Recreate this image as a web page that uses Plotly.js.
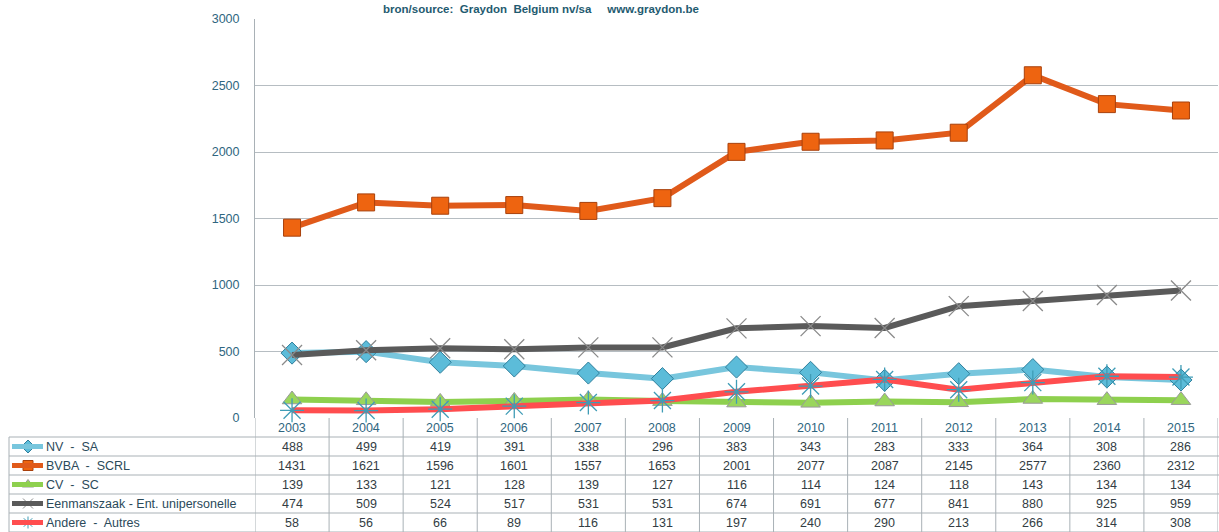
<!DOCTYPE html>
<html>
<head>
<meta charset="utf-8">
<script src="https://cdn.plot.ly/plotly-3.0.1.min.js"></script>
<style>html,body{margin:0;padding:0;background:#fff;}#chart{width:1219px;height:532px;}</style>
</head>
<body>
<div id="chart"></div>
<script>
// ---- data ----
var years = ['2003','2004','2005','2006','2007','2008','2009','2010','2011','2012','2013','2014','2015'];
var seriesNames = ['NV  -  SA', 'BVBA  -  SCRL', 'CV  -  SC', 'Eenmanszaak - Ent. unipersonelle', 'Andere  -  Autres'];
var nvSa = [488, 499, 419, 391, 338, 296, 383, 343, 283, 333, 364, 308, 286];
var bvbaScrl = [1431, 1621, 1596, 1601, 1557, 1653, 2001, 2077, 2087, 2145, 2577, 2360, 2312];
var cvSc = [139, 133, 121, 128, 139, 127, 116, 114, 124, 118, 143, 134, 134];
var eenmanszaak = [474, 509, 524, 517, 531, 531, 674, 691, 677, 841, 880, 925, 959];
var andere = [58, 56, 66, 89, 116, 131, 197, 240, 290, 213, 266, 314, 308];
var yTicks = [0, 500, 1000, 1500, 2000, 2500, 3000];
var titleText = 'bron/source:  Graydon  Belgium nv/sa     www.graydon.be';

// ---- styles ----
var allValues = [nvSa, bvbaScrl, cvSc, eenmanszaak, andere];
var styles = [
  {line: '#78c6dd', mfill: '#5cbcd9', mline: '#2f7f9c', symbol: 'diamond', size: 17, mw: 1},
  {line: '#e05a1a', mfill: '#ee6410', mline: '#a8400c', symbol: 'square', size: 17, mw: 1},
  {line: '#8ed04e', mfill: '#9ad65c', mline: '#9a9a9a', symbol: 'triangle-up', size: 17, mw: 1},
  {line: '#5a5a5a', mfill: '#8a8a8a', mline: '#8a8a8a', symbol: 'x-thin-open', size: 20, mw: 1.3},
  {line: '#ff4d4f', mfill: '#3f9cb6', mline: '#3f9cb6', symbol: 'asterisk-open', size: 20, mw: 1.3}
];

var W = 1219, H = 532;
var plotL = 255, plotR = 1218, plotT = 19, plotB = 418;
var rowTop = 437, rowH = 19;
var gridCol = '#b6bdc2';
var textCol = '#2b4a5a';
var tickCol = '#2f6680';
var font = 'Liberation Sans, Arial, sans-serif';

var traces = [];
allValues.forEach(function (vals, i) {
  var s = styles[i];
  traces.push({
    type: 'scatter', mode: 'lines+markers', name: seriesNames[i],
    x: years, y: vals, xaxis: 'x', yaxis: 'y', cliponaxis: false,
    line: {color: s.line, width: 6},
    marker: {symbol: s.symbol, size: s.size, color: s.mfill, line: {color: s.mline, width: s.mw}},
    showlegend: false, hoverinfo: 'x+y'
  });
});

// legend markers in the table (pixel axes)
var shapes = [];
var annotations = [];
allValues.forEach(function (vals, i) {
  var s = styles[i];
  var cy = rowTop + rowH * i + rowH / 2;
  shapes.push({type: 'line', xref: 'x2', yref: 'y2', x0: 12, x1: 43, y0: cy, y1: cy,
    line: {color: s.line, width: 5}, layer: 'above'});
  traces.push({
    type: 'scatter', mode: 'markers', x: [28], y: [cy], xaxis: 'x2', yaxis: 'y2',
    marker: {symbol: s.symbol, size: 10, color: s.mfill, line: {color: s.mline, width: 1}},
    showlegend: false, hoverinfo: 'skip', cliponaxis: false
  });
  annotations.push({xref: 'x2', yref: 'y2', x: 44, y: cy, text: seriesNames[i], showarrow: false,
    xanchor: 'left', yanchor: 'middle', font: {family: font, size: 12.5, color: textCol}});
  vals.forEach(function (v, j) {
    annotations.push({xref: 'x', yref: 'y2', x: j, y: cy, text: String(v), showarrow: false,
      xanchor: 'center', yanchor: 'middle', font: {family: font, size: 12.5, color: '#333d44'}});
  });
});
years.forEach(function (yr, j) {
  annotations.push({xref: 'x', yref: 'y2', x: j, y: (plotB + rowTop) / 2 + 0.5, text: yr, showarrow: false,
    xanchor: 'center', yanchor: 'middle', font: {family: font, size: 12.5, color: tickCol}});
});

// table grid
var tableBottom = rowTop + rowH * allValues.length;
for (var r = 0; r <= allValues.length; r++) {
  var yy = rowTop + rowH * r;
  shapes.push({type: 'line', xref: 'x2', yref: 'y2', x0: 9, x1: W, y0: yy, y1: yy,
    line: {color: '#a9b1b6', width: 1}, layer: 'below'});
}
shapes.push({type: 'line', xref: 'x2', yref: 'y2', x0: 9, x1: 9, y0: rowTop, y1: tableBottom,
  line: {color: '#a9b1b6', width: 1}, layer: 'below'});
for (var c = 0; c <= years.length; c++) {
  shapes.push({type: 'line', xref: 'x', yref: 'y2', x0: c - 0.5, x1: c - 0.5, y0: plotB, y1: tableBottom,
    line: {color: '#a9b1b6', width: 1}, layer: 'below'});
}

var layout = {
  width: W, height: H,
  margin: {l: 0, r: 0, t: 0, b: 0},
  paper_bgcolor: '#ffffff', plot_bgcolor: 'rgba(0,0,0,0)',
  showlegend: false,
  title: {text: '<b>' + titleText + '</b>', x: 541 / W, xanchor: 'center', y: 1 - 9 / H, yanchor: 'middle',
    font: {family: font, size: 11.5, color: '#1f5b70'}},
  xaxis: {
    domain: [plotL / W, plotR / W], type: 'category', range: [-0.5, years.length - 0.5],
    showticklabels: false, showgrid: false, zeroline: false, showline: false, ticks: '', fixedrange: true
  },
  yaxis: {
    domain: [(H - plotB) / H, (H - plotT) / H], range: [0, 3000], tickvals: yTicks,
    showgrid: true, gridcolor: gridCol, gridwidth: 1, zeroline: false,
    showline: true, linecolor: '#a9b1b6', linewidth: 1, ticks: '', ticklabelstandoff: 12,
    tickfont: {family: font, size: 12.5, color: tickCol}, fixedrange: true
  },
  xaxis2: {domain: [0, 1], range: [0, W], visible: false, anchor: 'y2', fixedrange: true},
  yaxis2: {domain: [0, 1], range: [H, 0], visible: false, anchor: 'x2', fixedrange: true},
  shapes: shapes,
  annotations: annotations
};

Plotly.newPlot('chart', traces, layout, {displayModeBar: false, staticPlot: true});
</script>
</body>
</html>
